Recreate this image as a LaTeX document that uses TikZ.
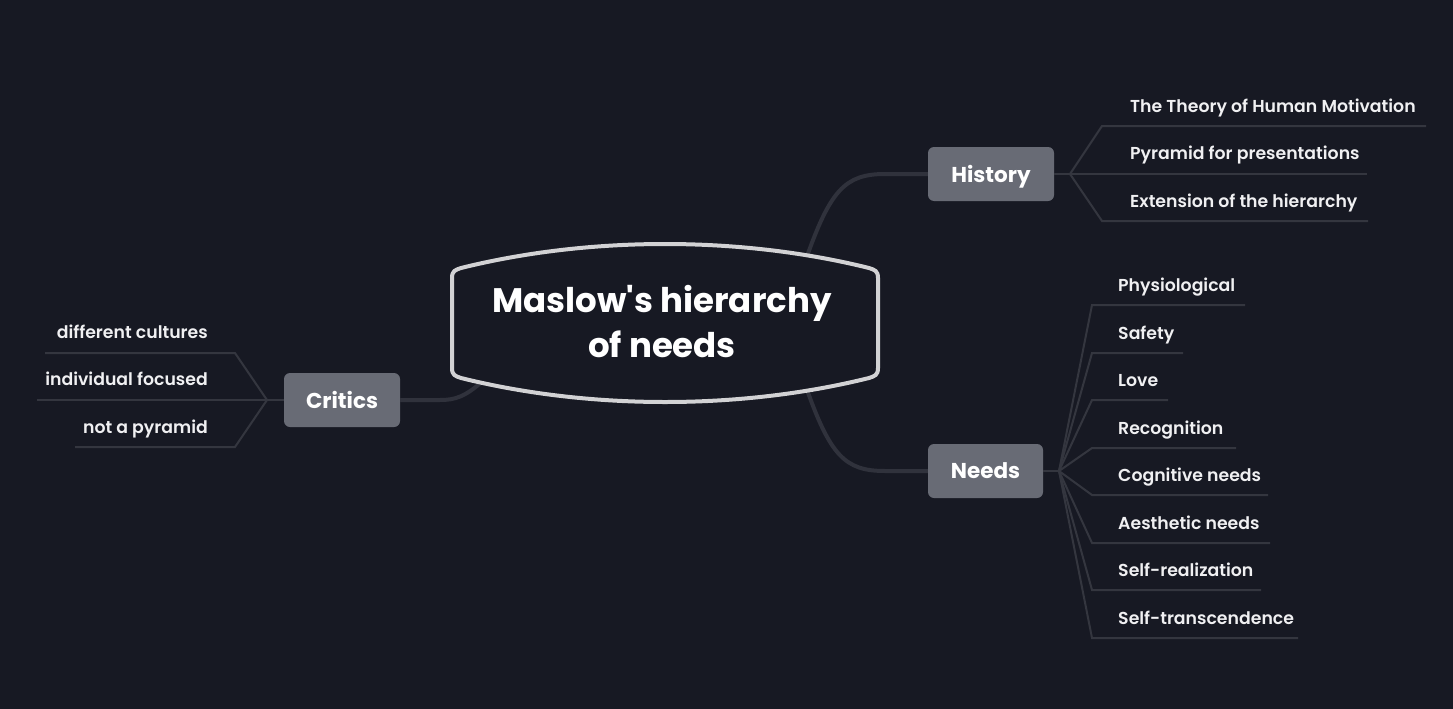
\documentclass[tikz,border=0pt]{standalone}
\usepackage{fontspec}
\setmainfont{Poppins}[Ligatures=TeXOff]
\newfontfamily\leaffont{Poppins SemiBold}
\definecolor{bg}{HTML}{171923}
\definecolor{boxc}{HTML}{686B75}
\definecolor{connc}{HTML}{30323C}
\definecolor{leafc}{HTML}{34363F}
\definecolor{txtc}{HTML}{F0F0F2}
\definecolor{rimc}{HTML}{D2D2D4}
\begin{document}
\begin{tikzpicture}[x=1pt,y=-1pt,
  branch/.style={fill=boxc, rounded corners=6pt, text=white, font=\bfseries\fontsize{21.5}{24}\selectfont, minimum height=54pt, inner sep=0pt, text depth=0pt},
  leaf/.style={text=txtc, font=\leaffont\fontsize{17.3}{20}\selectfont, inner sep=0pt},
  bigconn/.style={draw=connc, line width=4pt},
  leafl/.style={draw=leafc, line width=2pt}]
\useasboundingbox[fill=bg] (0,0) rectangle (1453,709);

% branch nodes
\node[branch, minimum width=126pt] (history) at (991,174) {History};
\node[branch, minimum width=115pt] (needs) at (985.5,471) {Needs};
\node[branch, minimum width=116pt] (critics) at (342,400) {Critics};

% main connectors
\coordinate (rh) at (805,262);
\coordinate (rn) at (805,384);
\coordinate (rc) at (484,380);
\draw[bigconn] (rh) .. controls (830,190) and (845,174) .. (885,174) -- (history.west);
\draw[bigconn] (rn) .. controls (830,456) and (845,471) .. (885,471) -- (needs.west);
\draw[bigconn] (rc) .. controls (465,397) and (455,400) .. (440,400) -- (critics.east);

% central shape
\draw[draw=rimc, fill=bg, line width=4pt]
  (452,278) .. controls (452,271) and (455,270) .. (461,268)
  .. controls (590,236) and (740,236) .. (869,268)
  .. controls (875,270) and (878,271) .. (878,278)
  -- (878,368)
  .. controls (878,375) and (875,376) .. (869,378)
  .. controls (740,410) and (590,410) .. (461,378)
  .. controls (455,376) and (452,375) .. (452,368) -- cycle;
\node[text=white, font=\bfseries\fontsize{34}{45}\selectfont, align=center, inner sep=0pt] (root) at (662,322) {Maslow's hierarchy\\of needs};

% History leaves
\coordinate (hh) at (1070,174);
\draw[leafl] (history.east) -- (hh);
\node[leaf, anchor=base west] (h1) at (1130,112) {The Theory of Human Motivation};
\node[leaf, anchor=base west] (h2) at (1130,159) {Pyramid for presentations};
\node[leaf, anchor=base west] (h3) at (1130,207) {Extension of the hierarchy};
\draw[leafl] (hh) -- (1102,126) -- (1426,126);
\draw[leafl] (hh) -- (1367,174);
\draw[leafl] (hh) -- (1102,221) -- (1368,221);

% Needs leaves
\coordinate (nh) at (1059,471);
\draw[leafl] (needs.east) -- (nh);
\foreach \y/\e/\t [count=\i] in {305/1245/Physiological, 353/1183/Safety, 400/1168/Love, 448/1236/Recognition, 495/1268/Cognitive needs, 543/1270/Aesthetic needs, 590/1261/Self-realization, 638/1298/Self-transcendence}{
  \node[leaf, anchor=base west] (n\i) at (1118,\y-14) {\t};
  \draw[leafl] (nh) -- (1092,\y) -- (\e,\y);
}

% Critics leaves
\coordinate (ch) at (267,400);
\draw[leafl] (critics.west) -- (ch);
\node[leaf, anchor=base east] (c1) at (208,338) {different cultures};
\node[leaf, anchor=base east] (c2) at (208,385) {individual focused};
\node[leaf, anchor=base east] (c3) at (208,433) {not a pyramid};
\draw[leafl] (ch) -- (235,353) -- (45,353);
\draw[leafl] (ch) -- (37,400);
\draw[leafl] (ch) -- (235,447) -- (75,447);
\end{tikzpicture}
\end{document}
